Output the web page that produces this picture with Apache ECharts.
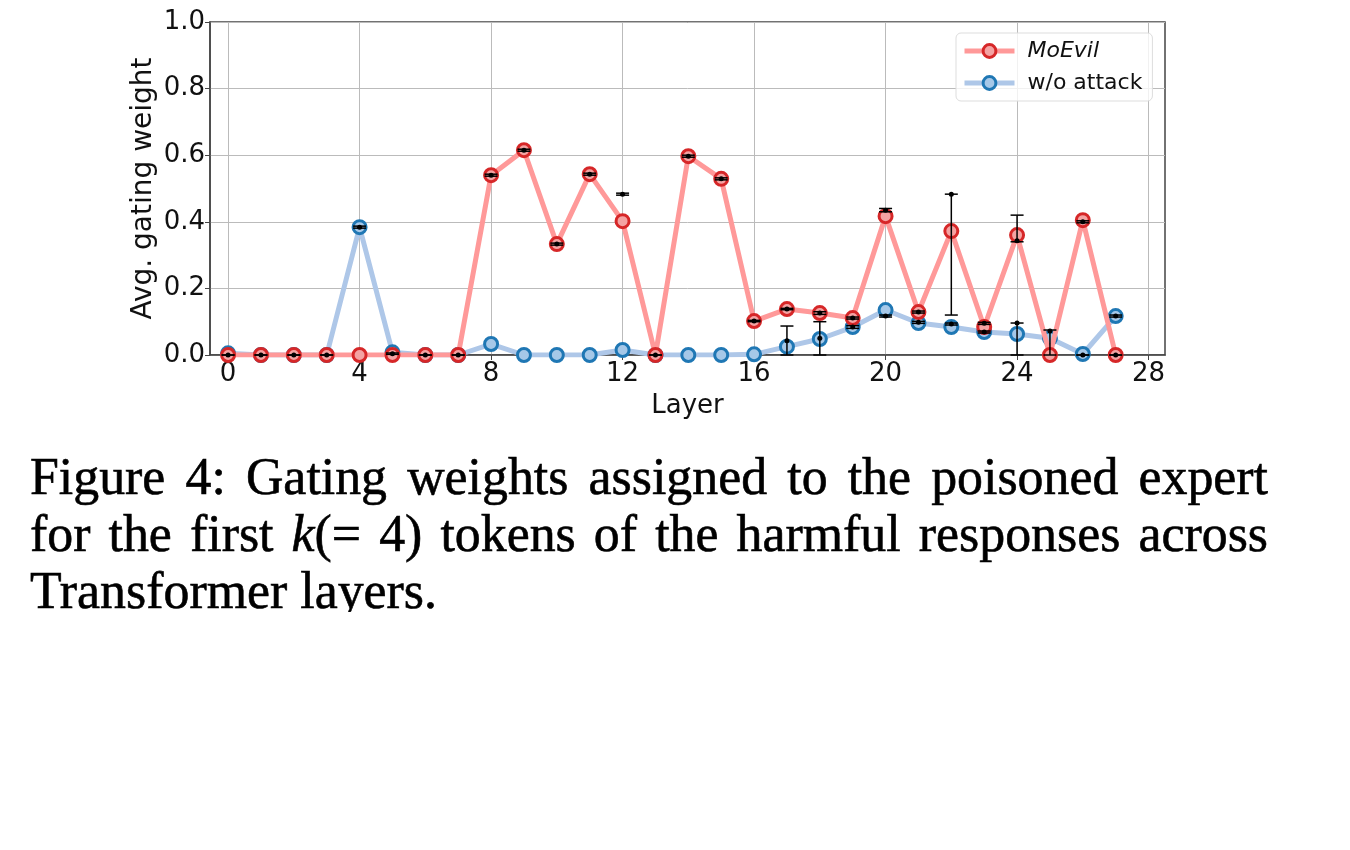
<!DOCTYPE html>
<html>
<head>
<meta charset="utf-8">
<script src="https://cdn.jsdelivr.net/npm/echarts@6/dist/echarts.min.js"></script>
<style>
  html, body { margin: 0; padding: 0; background: #fff; }
  #chart { width: 1350px; height: 850px; }
</style>
</head>
<body>
<div id="chart"></div>
<script>
// layers and mean gating weights
const layers = [0, 1, 2, 3, 4, 5, 6, 7, 8, 9, 10, 11, 12, 13, 14, 15, 16, 17, 18, 19, 20, 21, 22, 23, 24, 25, 26, 27];
const moevil = [0, 0, 0, 0, 0, 0, 0, 0, 0.54, 0.615, 0.333, 0.543, 0.402, 0, 0.597, 0.529, 0.102, 0.138, 0.126, 0.111, 0.417, 0.129, 0.372, 0.084, 0.36, 0, 0.405, 0];
const noAttack = [0.005, 0, 0, 0, 0.384, 0.008, 0, 0, 0.033, 0, 0, 0, 0.015, 0, 0, 0, 0.002, 0.025, 0.048, 0.084, 0.135, 0.096, 0.084, 0.069, 0.063, 0.05, 0.003, 0.117];

// black error bars (layer, centre, low, high)
const errX    = [0, 1, 2, 3, 4, 5, 6, 7, 8, 9, 10, 11, 12, 13, 14, 15, 16, 17, 17, 18, 18, 19, 19, 20, 20, 21, 21, 22, 22, 23, 23, 24, 24, 25, 26, 26, 27, 27];
const errMid  = [0, 0, 0, 0, 0.384, 0.004, 0, 0, 0.54, 0.615, 0.333, 0.543, 0.483, 0, 0.597, 0.529, 0.102, 0.138, 0.043, 0.126, 0.05, 0.111, 0.084, 0.435, 0.117, 0.129, 0.098, 0.483, 0.093, 0.095, 0.069, 0.343, 0.096, 0.072, 0.40, 0, 0.117, 0];
const errLow  = [0, 0, 0, 0, 0.381, 0.002, 0, 0, 0.537, 0.612, 0.33, 0.54, 0.48, 0, 0.594, 0.526, 0.1, 0.136, 0, 0.122, 0, 0.108, 0.08, 0.43, 0.114, 0.126, 0.095, 0.12, 0.09, 0.092, 0.066, 0.34, 0, 0, 0.397, 0, 0.114, 0];
const errHigh = [0, 0, 0, 0, 0.387, 0.006, 0, 0, 0.543, 0.618, 0.336, 0.546, 0.486, 0, 0.6, 0.532, 0.104, 0.14, 0.087, 0.13, 0.1, 0.114, 0.088, 0.44, 0.12, 0.132, 0.101, 0.483, 0.096, 0.098, 0.072, 0.42, 0.096, 0.075, 0.403, 0, 0.12, 0];

const xTicks = [0, 4, 8, 12, 16, 20, 24, 28];

const captionLines = [
  'Figure 4: Gating weights assigned to the poisoned expert',
  'for the first *k*(= 4) tokens of the harmful responses across',
  'Transformer layers.'
];

const chart = echarts.init(document.getElementById('chart'));

// caption: measure words so lines 1 and 2 are justified like in the paper
const buildCaption = () => {
  const fontSize = 52;
  const family = '"Liberation Serif", "Times New Roman", serif';
  const ctx = document.createElement('canvas').getContext('2d');
  const measure = (t, italic) => {
    ctx.font = (italic ? 'italic ' : '') + fontSize + 'px ' + family;
    return ctx.measureText(t).width;
  };
  const left = 30, right = 1268;
  const sp = measure(' ');
  const lastW = measure(captionLines[2]);
  const sx = (437 - left) / lastW;
  const baselines = [494, 551, 608];
  const drop = 12;
  const els = [];
  captionLines.forEach((line, li) => {
    const words = line.split(' ').map(w => {
      const segs = [];
      w.split('*').forEach((s, k) => { if (s) segs.push({ t: s, it: k % 2 === 1 }); });
      const width = segs.reduce((a, s) => a + measure(s.t, s.it), 0);
      return { segs, width };
    });
    const total = words.reduce((a, w) => a + w.width, 0);
    let gap = sp;
    if (li < captionLines.length - 1) gap = ((right - left) / sx - total) / (words.length - 1);
    let x = 0;
    words.forEach(w => {
      let xx = x;
      w.segs.forEach(s => {
        els.push({
          type: 'text',
          x: left + xx * sx,
          y: baselines[li] + drop,
          scaleX: sx,
          z: 10,
          style: {
            text: s.t,
            fontSize: fontSize,
            fontFamily: family,
            fontStyle: s.it ? 'italic' : 'normal',
            fill: '#000',
            stroke: '#000',
            lineWidth: 0.6,
            verticalAlign: 'bottom'
          }
        });
        xx += measure(s.t, s.it);
      });
      x += w.width + gap;
    });
  });
  // the page is cut just under the last line
  els.push({ type: 'rect', shape: { x: 0, y: 612, width: 1350, height: 240 }, style: { fill: '#fff' }, z: 20 });
  return els;
};

const axisFont = { fontFamily: 'DejaVu Sans', fontSize: 26, color: '#111' };

const option = {
  animation: false,
  backgroundColor: '#fff',
  grid: {
    left: 210, right: 185, top: 22, bottom: 495,
    show: true, borderColor: '#444', borderWidth: 1.5, backgroundColor: 'transparent'
  },
  legend: {
    left: 956, top: 33,
    orient: 'vertical',
    data: ['MoEvil', 'w/o attack'],
    itemWidth: 50, itemHeight: 16, itemGap: 10,
    padding: [7, 10, 7, 6],
    borderColor: '#ddd', borderWidth: 1, borderRadius: 5,
    backgroundColor: 'rgba(255,255,255,0.8)',
    lineStyle: { width: 5 },
    itemStyle: { borderWidth: 3 },
    formatter: name => name === 'MoEvil' ? '{i|MoEvil}' : name,
    textStyle: {
      fontFamily: 'DejaVu Sans', fontSize: 22, color: '#111', padding: [0, 0, 0, 8],
      rich: { i: { fontStyle: 'italic', fontFamily: 'DejaVu Sans', fontSize: 22, color: '#111' } }
    }
  },
  xAxis: {
    type: 'value',
    min: -0.55, max: 28.5,
    name: 'Layer', nameLocation: 'middle', nameGap: 38,
    nameTextStyle: axisFont,
    axisLine: { show: true, onZero: false, lineStyle: { color: '#444', width: 1.5 } },
    axisTick: { show: true, length: 5, customValues: xTicks, lineStyle: { color: '#444' } },
    axisLabel: { customValues: xTicks, margin: 6, ...axisFont },
    splitLine: { show: true, lineStyle: { color: '#bbb', width: 1 } }
  },
  yAxis: {
    type: 'value',
    min: 0, max: 1, interval: 0.2,
    name: 'Avg. gating weight', nameLocation: 'middle', nameGap: 52,
    nameMoveOverlap: false,
    nameTextStyle: { ...axisFont, fontSize: 28 },
    axisLine: { show: true, onZero: false, lineStyle: { color: '#444', width: 1.5 } },
    axisTick: { show: true, length: 5, lineStyle: { color: '#444' } },
    axisLabel: { margin: 5, formatter: v => v.toFixed(1), ...axisFont },
    splitLine: { show: true, lineStyle: { color: '#bbb', width: 1 } }
  },
  graphic: buildCaption(),
  series: [
    {
      name: 'w/o attack',
      type: 'line',
      data: layers.map((l, i) => [l, noAttack[i]]),
      symbol: 'circle', symbolSize: 13,
      lineStyle: { color: '#aec7e8', width: 5 },
      itemStyle: { color: '#a6c8e8', borderColor: '#1f77b4', borderWidth: 3 },
      z: 2
    },
    {
      name: 'MoEvil',
      type: 'line',
      data: layers.map((l, i) => [l, moevil[i]]),
      symbol: 'circle', symbolSize: 13,
      lineStyle: { color: '#ff9999', width: 5 },
      itemStyle: { color: '#f4a3a3', borderColor: '#d62728', borderWidth: 3 },
      z: 3
    },
    {
      name: 'err',
      type: 'custom',
      z: 5,
      silent: true,
      data: errX.map((x, i) => [x, errMid[i], errLow[i], errHigh[i]]),
      renderItem: (params, api) => {
        const x = api.value(0);
        const top = api.coord([x, api.value(3)]);
        const bot = api.coord([x, api.value(2)]);
        const mid = api.coord([x, api.value(1)]);
        const cap = 6.5;
        const st = { stroke: '#000', lineWidth: 1.5 };
        return {
          type: 'group',
          children: [
            { type: 'line', shape: { x1: top[0], y1: top[1], x2: bot[0], y2: bot[1] }, style: st },
            { type: 'line', shape: { x1: top[0] - cap, y1: top[1], x2: top[0] + cap, y2: top[1] }, style: st },
            { type: 'line', shape: { x1: bot[0] - cap, y1: bot[1], x2: bot[0] + cap, y2: bot[1] }, style: st },
            { type: 'circle', shape: { cx: mid[0], cy: mid[1], r: 2.5 }, style: { fill: '#000' } }
          ]
        };
      }
    }
  ]
};

chart.setOption(option);
</script>
</body>
</html>
